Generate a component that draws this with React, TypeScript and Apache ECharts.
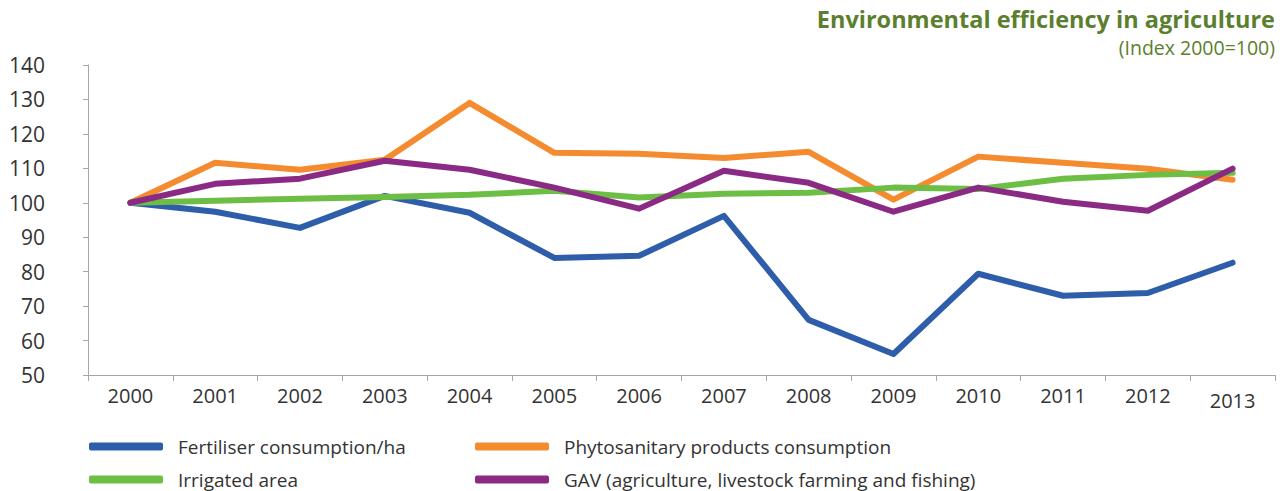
import React, { useEffect, useRef } from "react";
import * as echarts from "echarts";

const years = ["2000", "2001", "2002", "2003", "2004", "2005", "2006", "2007", "2008", "2009", "2010", "2011", "2012", "2013"];
const fertiliser = [100, 97.4, 92.7, 102, 97.1, 84, 84.6, 96.2, 66, 56.1, 79.4, 73, 73.8, 82.6];
const phytosanitary = [100, 111.6, 109.6, 112.5, 129, 114.5, 114.2, 113, 114.8, 100.9, 113.4, 111.6, 109.9, 106.7];
const irrigated = [100, 100.6, 101.2, 101.7, 102.3, 103.5, 101.5, 102.6, 102.9, 104.4, 104, 107, 108.1, 108.7];
const gav = [100, 105.5, 107, 112.2, 109.6, 104.4, 98.3, 109.3, 105.8, 97.4, 104.4, 100.3, 97.7, 109.9];

const seriesNames = [
  "Fertiliser consumption/ha",
  "Phytosanitary products consumption",
  "Irrigated area",
  "GAV (agriculture, livestock farming and fishing)",
];
const colors = ["#2E5EAA", "#F58B2F", "#6DBE45", "#8B2A84"];
const titleText = "Environmental efficiency in agriculture";
const subtitleText = "(Index 2000=100)";

const FONT = "'Open Sans', Lato, sans-serif";

export default function App() {
  const ref = useRef<HTMLDivElement>(null);
  useEffect(() => {
    if (!ref.current) return;
    const chart = echarts.init(ref.current, null, { renderer: "svg" });
    const dataArr = [fertiliser, phytosanitary, irrigated, gav];
    const legendPos = [
      { left: 84, top: 432 },
      { left: 470, top: 432 },
      { left: 84, top: 465 },
      { left: 470, top: 465 },
    ];
    chart.setOption({
      animation: false,
      graphic: [
        {
          type: "text",
          right: 8,
          top: 6,
          style: {
            text: titleText,
            fontFamily: FONT,
            fontSize: 23.5,
            lineHeight: 25,
            fontWeight: "bold",
            fill: "#5B7F2E",
          },
        },
        {
          type: "text",
          right: 8,
          top: 37,
          style: {
            text: subtitleText,
            fontFamily: FONT,
            fontSize: 19.5,
            lineHeight: 20,
            fill: "#5B7F2E",
          },
        },
      ],
      legend: seriesNames.map((n, i) => ({
        data: [n],
        left: legendPos[i].left,
        top: legendPos[i].top,
        icon: "roundRect",
        itemWidth: 74,
        itemHeight: 8,
        itemGap: 10,
        selectedMode: false,
        textStyle: { fontFamily: FONT, fontSize: 19, color: "#333", padding: [0, 0, 0, 10] },
      })),
      grid: { left: 88, right: 8, top: 65, bottom: 116, containLabel: false },
      xAxis: {
        type: "category",
        data: years,
        boundaryGap: true,
        axisLine: { lineStyle: { color: "#A6A6A6", width: 1 } },
        axisTick: { show: true, length: 6, interval: 0, lineStyle: { color: "#A6A6A6" } },
        axisLabel: {
          interval: 0,
          fontFamily: FONT,
          fontSize: 20,
          color: "#333",
          margin: 10,
          formatter: (v: string) => (v === "2013" ? "{low|" + v + "}" : v),
          rich: { low: { fontFamily: FONT, fontSize: 20, color: "#333", padding: [5, 0, 0, 0] } },
        },
      },
      yAxis: {
        type: "value",
        min: 50,
        max: 140,
        interval: 10,
        axisLine: { show: true, lineStyle: { color: "#A6A6A6", width: 1 } },
        axisTick: { show: true, length: 5, lineStyle: { color: "#A6A6A6" } },
        splitLine: { show: false },
        axisLabel: { fontFamily: FONT, fontSize: 21, color: "#333", margin: 43 },
      },
      series: seriesNames.map((n, i) => ({
        name: n,
        type: "line",
        data: dataArr[i],
        symbol: "none",
        color: colors[i],
        lineStyle: { width: 6, color: colors[i], cap: "round", join: "round" },
      })),
    });
    return () => chart.dispose();
  }, []);
  return (
    <div
      ref={ref}
      style={{ position: "absolute", left: 0, top: 0, width: 1283, height: 491, background: "#fff" }}
    />
  );
}
